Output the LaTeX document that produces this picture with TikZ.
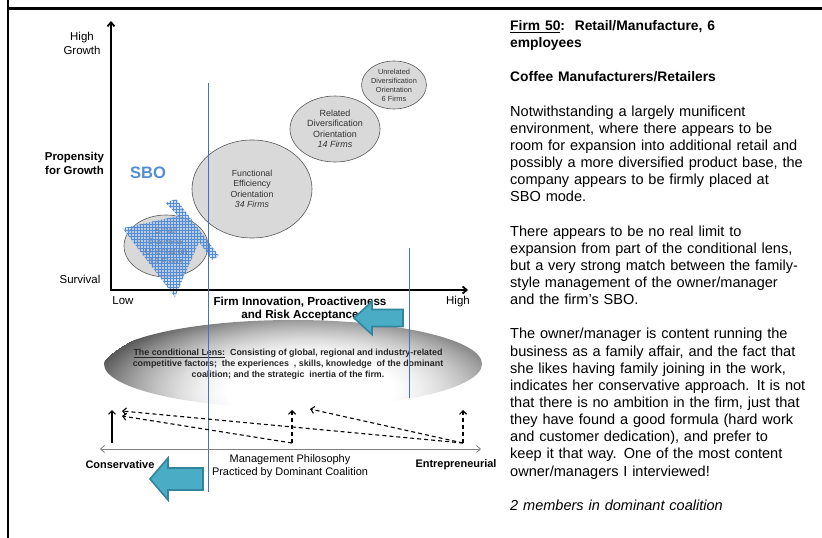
\documentclass[tikz,border=0pt]{standalone}
\usepackage{fontspec}
\setmainfont{Liberation Sans}
\usepackage{tikz}
\usetikzlibrary{shapes.geometric,arrows.meta,patterns,positioning}

\definecolor{sboblue}{RGB}{84,141,212}
\definecolor{guideblue}{RGB}{68,114,196}
\definecolor{tealfill}{RGB}{75,172,198}
\definecolor{tealedge}{RGB}{49,133,156}
\definecolor{bubblegray}{RGB}{217,217,217}

% white core, darkening towards the rim
\pgfdeclareradialshading{lensshade}{\pgfpoint{0bp}{0bp}}{%
  color(0bp)=(white); color(19bp)=(white); color(25bp)=(black!6);
  color(30bp)=(black!14); color(35bp)=(black!24); color(40bp)=(black!36);
  color(45bp)=(black!50); color(50bp)=(black!66)}

\newcommand{\fs}[2]{\fontsize{#1}{#2}\selectfont}

\begin{document}
\begin{tikzpicture}[x=1bp, y=-1bp,
  bubble/.style={ellipse, draw=black!65, fill=bubblegray, line width=0.6bp,
    inner sep=0pt, align=center, text=black!80},
  axislabel/.style={align=center, font=\fs{11.5}{14}},
  boldlabel/.style={align=center, font=\bfseries\fs{11.5}{14}},
  hatch/.style={fill=sboblue!55, fill opacity=0.5,
    postaction={pattern=grid, pattern color=sboblue, fill opacity=0.55}},
  guide/.style={guideblue, line width=0.9bp},
  tealarrow/.style={fill=tealfill, draw=tealedge, line width=1.6bp, line join=miter},
  barb/.style={-{Straight Barb[length=3.5bp, width=7bp]}},
  dasharrow/.style={barb, dash pattern=on 4bp off 3bp, line width=1.1bp},
]
\useasboundingbox (0,0) rectangle (822,538);

% frame
\draw[line width=2.5bp] (8,0) -- (8,538);
\draw[line width=2.5bp] (8,8.5) -- (822,8.5);

% strategic orientations
\node[bubble, minimum width=120bp, minimum height=98bp, font=\fs{8.8}{10.5}] (functional) at (252,189) {Functional\\Efficiency\\Orientation\\\textit{34 Firms}};
\node[bubble, minimum width=90bp, minimum height=66bp, font=\fs{9}{10.5}] (related) at (335,129) {Related\\Diversification\\Orientation\\\textit{14 Firms}};
\node[bubble, minimum width=56bp, minimum height=48bp, font=\fs{7.4}{9}] (unrelated) at (394,85) {Unrelated\\Diversification\\Orientation\\6 Firms};
\node[bubble, minimum width=84bp, minimum height=62bp, font=\fs{8.8}{10.3}] (smallbiz) at (166,246) {Small\\Business\\Orientation\\\textit{13 Firms}};

% firm position
\fill[hatch] (122.7,228.3) -- (178,216) -- (166,203) -- (176,199) -- (219,256)
  -- (212,260) -- (199,242) -- (175,297) -- cycle;
\node[text=sboblue, font=\bfseries\fs{16.6}{18}] (sbo) at (148,173) {SBO};

% axes
\coordinate (origin) at (111,290);
\coordinate (ytip) at (111,21);
\coordinate (xtip) at (468,290);
\draw[line width=1.8bp, {Straight Barb[length=4bp, width=7bp]}-{Straight Barb[length=4bp, width=7bp]}] (ytip) -- (origin) -- (xtip);

\node[axislabel] (highgrowth) at (82,43) {High\\Growth};
\node[boldlabel] (propensity) at (74.5,163) {Propensity\\for Growth};
\node[axislabel] (survival) at (80,279) {Survival};
\node[axislabel] (low) at (123,301) {Low};
\node[axislabel] (high) at (458,302) {High};
\node[boldlabel, font=\bfseries\fs{11.7}{14}] (innovation) at (300,309) {Firm Innovation, Proactiveness\\and Risk Acceptance};

% conditional lens
\begin{scope}
  \clip (293,364) ellipse [x radius=189bp, y radius=44bp];
  \begin{scope}[shift={(310,390)}, xscale=4.4, yscale=1.7]
    \pgflowlevelsynccm
    \pgfuseshading{lensshade}
  \end{scope}
\end{scope}
\node[font=\bfseries\fs{8.9}{11.2}, align=center, text=black!85] (lenstext) at (288,364.5)
  {\underline{The conditional Lens:}\ \ Consisting of global, regional and industry-related\\
   competitive factors;\ \ the experiences\ \ , skills, knowledge\ \ of the dominant\\
   coalition; and the strategic\ \ inertia of the firm.};

\draw[tealarrow] (354,318) -- ++(18,-16.5) -- ++(0,8) -- ++(31,0) -- ++(0,17) -- ++(-31,0) -- ++(0,8) -- cycle;

% guide lines
\draw[guide] (208,83) -- (208,492);
\draw[guide] (409,248) -- (409,398);

% management philosophy
\coordinate (philoleft) at (100,449);
\coordinate (philoright) at (481,449);
\coordinate (solidfoot) at (112,443);
\coordinate (solidtop) at (112,410);
\coordinate (midfoot) at (292,443);
\coordinate (midtop) at (292,410);
\coordinate (rightfoot) at (463,443);
\coordinate (righttop) at (463,410);
\coordinate (leftupper) at (122,411);
\coordinate (leftlower) at (122,416);
\coordinate (midhead) at (310,409);

\draw[black!50, line width=0.8bp, {Straight Barb[length=4bp, width=7bp]}-{Straight Barb[length=4bp, width=7bp]}] (philoleft) -- (philoright);
\draw[barb, line width=1.1bp] (solidfoot) -- (solidtop);
\draw[dasharrow] (midfoot) -- (midtop);
\draw[dasharrow] (midfoot) -- (leftlower);
\draw[dasharrow] (rightfoot) -- (righttop);
\draw[dasharrow] (rightfoot) -- (leftupper);
\draw[dasharrow] (rightfoot) -- (midhead);

\node[boldlabel, font=\bfseries\fs{11}{13}] (conservative) at (120,465) {Conservative};
\node[axislabel, font=\fs{11}{13}] (philosophy) at (290,466) {Management Philosophy\\Practiced by Dominant Coalition};
\node[boldlabel, font=\bfseries\fs{11}{13}] (entrepreneurial) at (456,465) {Entrepreneurial};

\draw[tealarrow] (150,479) -- ++(18,-21) -- ++(0,10) -- ++(35,0) -- ++(0,22) -- ++(-35,0) -- ++(0,10) -- cycle;

% case notes
\node[anchor=north west, inner sep=0pt, text width=318bp, align=left, font=\fs{14.6}{17.2}] (casenote) at (510,20) {%
  {\bfseries\fs{13.9}{17.2}\underline{Firm 50}:\ \ Retail/Manufacture, 6\\employees\\[17.2bp]
  Coffee Manufacturers/Retailers}\\[17.2bp]
  Notwithstanding a largely munificent\\
  environment, where there appears to be\\
  room for expansion into additional retail and\\
  possibly a more diversified product base, the\\
  company appears to be firmly placed at\\
  SBO mode.\\[17.2bp]
  There appears to be no real limit to\\
  expansion from part of the conditional lens,\\
  but a very strong match between the family-\\
  style management of the owner/manager\\
  and the firm’s SBO.\\[17.2bp]
  The owner/manager is content running the\\
  business as a family affair, and the fact that\\
  she likes having family joining in the work,\\
  indicates her conservative approach. It is not\\
  that there is no ambition in the firm, just that\\
  they have found a good formula (hard work\\
  and customer dedication), and prefer to\\
  keep it that way. One of the most content\\
  owner/managers I interviewed!\\[17.2bp]
  \textit{2 members in dominant coalition}};
\end{tikzpicture}
\end{document}
